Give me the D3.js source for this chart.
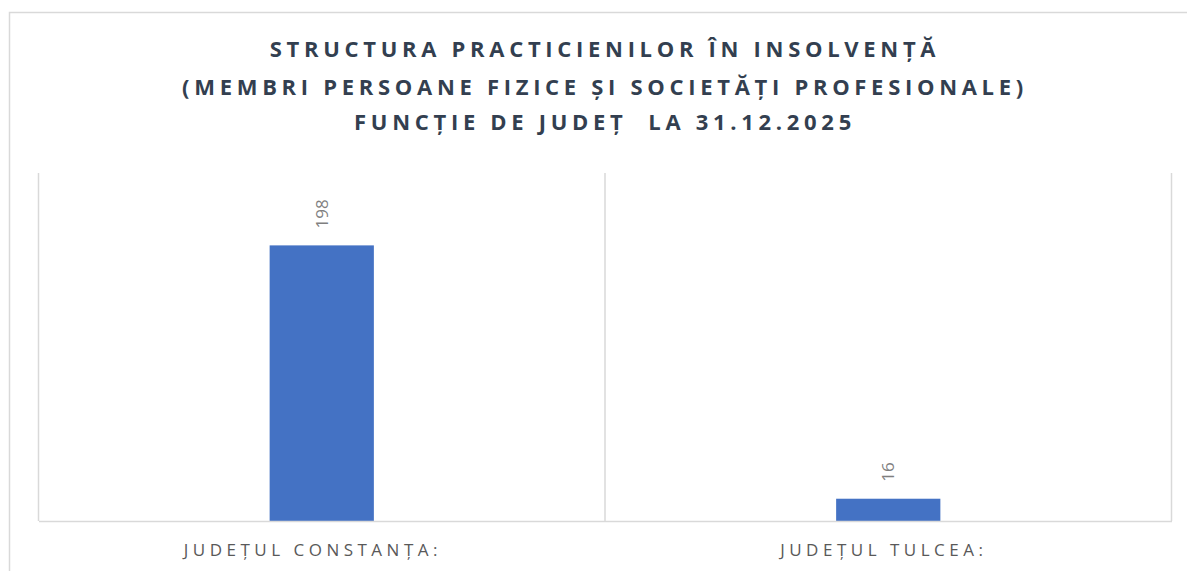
<!DOCTYPE html>
<html>
<head>
<meta charset="utf-8">
<script src="https://cdn.jsdelivr.net/npm/d3@7"></script>
<style>
  html, body { margin: 0; padding: 0; background: #fff; }
  svg { display: block; }
</style>
</head>
<body>
<svg id="chart" width="1187" height="571"></svg>
<script>
const titleLines = [
  "STRUCTURA PRACTICIENILOR ÎN INSOLVENȚĂ",
  "(MEMBRI PERSOANE FIZICE ȘI SOCIETĂȚI PROFESIONALE)",
  "FUNCȚIE DE JUDEȚ  LA 31.12.2025"
];
const categories = ["JUDEȚUL CONSTANȚA:  ", "JUDEȚUL TULCEA: "];
const values = [198, 16];
const yDomain = [0, 250];

const W = 1187, H = 571;
const svg = d3.select("#chart");

// outer chart border
svg.append("rect")
  .attr("x", 9.5).attr("y", 12.5)
  .attr("width", W).attr("height", H)
  .attr("fill", "#fff").attr("stroke", "#d9d9d9").attr("stroke-width", 1.5);

// title
const title = svg.append("text")
  .attr("text-anchor", "middle")
  .attr("font-family", "'Open Sans', sans-serif")
  .attr("font-weight", 700)
  .attr("font-size", 22)
  .attr("fill", "#333f50")
  .style("letter-spacing", "4.7px")
  .style("white-space", "pre");
const titleY = [57, 95, 130];
titleLines.forEach((t, i) => {
  title.append("tspan").attr("x", 605).attr("y", titleY[i]).text(t);
});

const plot = { left: 38.5, right: 1171.5, top: 173, bottom: 521 };

const x = d3.scaleBand().domain(categories).range([plot.left, plot.right]).paddingInner(0).paddingOuter(0);
const y = d3.scaleLinear().domain(yDomain).range([plot.bottom, plot.top]);

// vertical category gridlines
const bounds = categories.map(c => x(c)).concat([plot.right]);
svg.append("g").selectAll("line").data(bounds).join("line")
  .attr("x1", d => d).attr("x2", d => d)
  .attr("y1", plot.top).attr("y2", plot.bottom)
  .attr("stroke", "#d9d9d9").attr("stroke-width", 1.5);

// bars
const barW = x.bandwidth() * 0.184;
svg.append("g").selectAll("rect").data(values).join("rect")
  .attr("x", (d, i) => x(categories[i]) + x.bandwidth() / 2 - barW / 2)
  .attr("width", barW)
  .attr("y", d => y(d))
  .attr("height", d => y(0) - y(d))
  .attr("fill", "#4472c4");

// baseline axis
const xAxis = d3.axisBottom(x).tickSize(0).tickPadding(23);
const gx = svg.append("g").attr("transform", `translate(0,${y(0)})`).call(xAxis);
gx.select(".domain").attr("stroke", "#d9d9d9").attr("stroke-width", 1.5);
gx.selectAll("text")
  .attr("font-family", "'Open Sans', sans-serif")
  .attr("font-size", 17)
  .attr("fill", "#595959")
  .style("letter-spacing", "4.5px")
  .style("white-space", "pre");

// value labels (rotated)
svg.append("g").selectAll("text").data(values).join("text")
  .attr("transform", (d, i) => `translate(${x(categories[i]) + x.bandwidth() / 2 + 6},${y(d) - 17}) rotate(-90)`)
  .attr("text-anchor", "start")
  .attr("font-family", "'Open Sans', sans-serif")
  .attr("font-size", 17)
  .attr("fill", "#7f7f7f")
  .text(d => d);
</script>
</body>
</html>
